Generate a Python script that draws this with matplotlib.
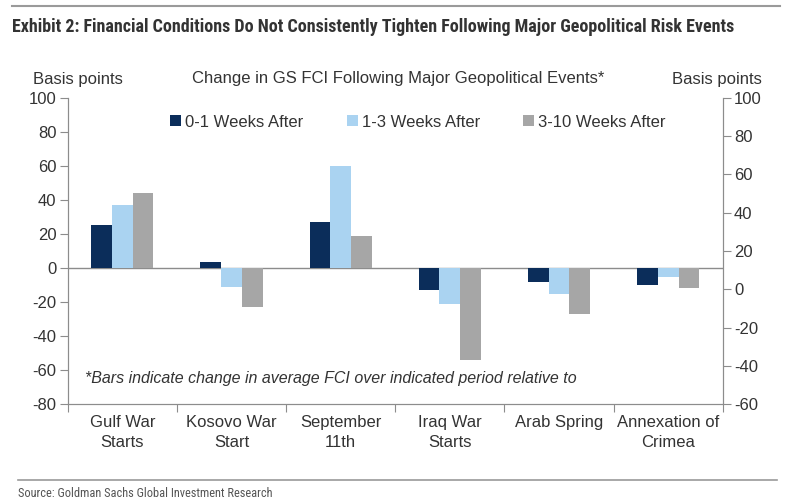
import matplotlib.pyplot as plt
import matplotlib.lines as mlines
import numpy as np

# --- Data ---
events = ["Gulf War\nStarts", "Kosovo War\nStart", "September\n11th",
          "Iraq War\nStarts", "Arab Spring", "Annexation of\nCrimea"]
wk_0_1 = [25, 3.5, 27, -13, -8, -10]
wk_1_3 = [37, -11, 60, -21, -15, -5]
wk_3_10 = [44, -23, 19, -54, -27, -12]
series_names = ["0-1 Weeks After", "1-3 Weeks After", "3-10 Weeks After"]
colors = ["#0b2d5a", "#aad3f1", "#a6a6a6"]

plt.rcParams['font.family'] = ['Liberation Sans', 'DejaVu Sans']
plt.rcParams['axes.unicode_minus'] = False
txt = "#333333"
axcol = "#8c8c8c"
narrow = ['Roboto Condensed', 'DejaVu Sans']

fig = plt.figure(figsize=(7.96, 5.04), dpi=100)
ax = fig.add_axes([0.085, 0.198, 0.823, 0.608])

x = np.arange(len(events))
w = 0.19
for i, (vals, name, c) in enumerate(zip([wk_0_1, wk_1_3, wk_3_10], series_names, colors)):
    ax.bar(x + (i - 1) * w, vals, width=w, color=c, label=name, zorder=2)

ax.axhline(0, color=axcol, lw=1, zorder=1)
ax.set_xlim(-0.5, len(events) - 0.5)
ax.set_ylim(-80, 100)
ax.set_yticks(np.arange(-80, 101, 20))

# category boundary ticks + centered labels
ax.set_xticks(np.arange(-0.5, len(events)), labels=[])
ax.set_xticks(x, labels=events, minor=True)
ax.tick_params(axis='x', which='major', direction='out', length=6, color=axcol)
ax.tick_params(axis='x', which='minor', length=0, pad=8, labelsize=12, labelcolor=txt)
ax.tick_params(axis='y', direction='out', length=6, color=axcol, labelsize=12,
               labelcolor=txt, pad=2)
for lbl in ax.get_xticklabels(minor=True):
    lbl.set_linespacing(1.35)

ax.spines['top'].set_visible(False)
for s in ['left', 'right', 'bottom']:
    ax.spines[s].set_color(axcol)

ax2 = ax.twinx()
ax2.set_ylim(-60, 100)
ax2.set_yticks(np.arange(-60, 101, 20))
ax2.tick_params(axis='y', direction='out', length=6, color=axcol, labelsize=12,
                labelcolor=txt, pad=2)
ax2.spines['top'].set_visible(False)
for s in ['left', 'right', 'bottom']:
    ax2.spines[s].set_color(axcol)

ax.legend(loc='center', bbox_to_anchor=(0.535, 0.92), ncol=3, frameon=False,
          fontsize=12, handlelength=0.65, handleheight=0.65, handletextpad=0.25,
          columnspacing=2.6, labelcolor=txt)

ax.text(0.026, 0.085, "*Bars indicate change in average FCI over indicated period relative to",
        transform=ax.transAxes, fontsize=11.5, style='italic', color=txt, va='center')

# headings
fig.text(0.042, 0.842, "Basis points", fontsize=12, color=txt, va='center')
fig.text(0.957, 0.842, "Basis points", fontsize=12, color=txt, va='center', ha='right')
fig.text(0.50, 0.845, "Change in GS FCI Following Major Geopolitical Events*",
         fontsize=12, color=txt, va='center', ha='center')

title = fig.text(0.015, 0.946,
                 "Exhibit 2: Financial Conditions Do Not Consistently Tighten Following Major Geopolitical Risk Events",
                 fontsize=13, fontweight='bold', color=txt, va='center',
                 family=narrow, fontstretch='condensed')
source = fig.text(0.023, 0.02, "Source: Goldman Sachs Global Investment Research",
                  fontsize=10, color="#555555", va='center',
                  family=narrow, fontstretch='condensed')

# shrink the narrow-style texts so they span the same width as in the original
renderer = fig.canvas.get_renderer()
for t, target in [(title, 718), (source, 255)]:
    wpx = t.get_window_extent(renderer).width
    t.set_fontsize(t.get_fontsize() * target / wpx)

fig.add_artist(mlines.Line2D([0.015, 0.98], [0.988, 0.988], color="#9a9a9a", lw=1.5))
fig.add_artist(mlines.Line2D([0.023, 0.976], [0.048, 0.048], color="#9a9a9a", lw=1.2))

fig.savefig("out.png", dpi=100)
